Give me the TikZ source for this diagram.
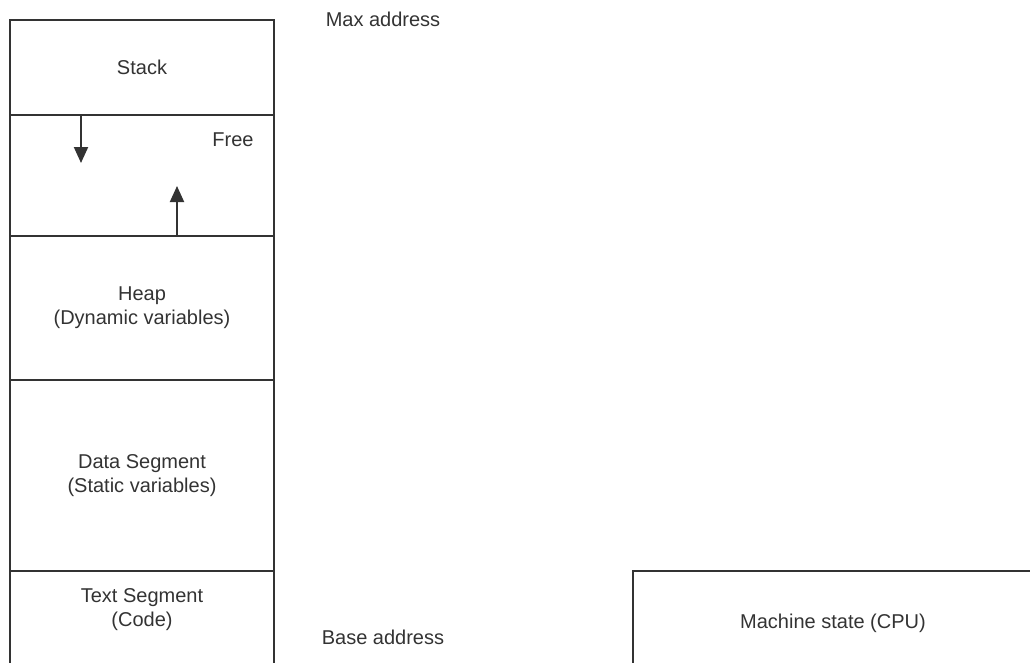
\documentclass[tikz,border=0pt]{standalone}
\usepackage{fontspec}
\setmainfont{Liberation Sans}
\usetikzlibrary{arrows.meta,positioning}

\definecolor{linegray}{HTML}{333333}
\tikzstyle{segment} = [rectangle, draw=linegray, line width=2pt, minimum width=264pt, anchor=north west, inner sep=0pt, align=center]
\tikzstyle{label} = [text=linegray, align=center]

\begin{document}
\begin{tikzpicture}[x=1pt, y=-1pt, font=\fontsize{20}{24}\selectfont, text=linegray]
        \useasboundingbox (0,0) rectangle (1030,662);
        \clip (0,0) rectangle (1030,662);
        % memory segments, top to bottom
        \node (stack) at (9,19) [segment, minimum height=95pt] {Stack};
        \node (free) at (9,114) [segment, minimum height=121pt] {};
        \node (heap) at (9,235) [segment, minimum height=144pt] {Heap\\(Dynamic variables)};
        \node (data) at (9,379) [segment, minimum height=191pt] {Data Segment\\(Static variables)};
        \node (code) at (9,570) [segment, minimum height=120pt, text depth=46pt] {Text Segment\\(Code)};
        \node (cpu) at (632,570) [segment, minimum width=430pt, minimum height=120pt, text depth=20pt] {\hspace*{-30pt}Machine state (CPU)};
        % labels
        \node (freelabel) at (233,140) [label] {Free};
        \node (maxaddr) at (383,19) [label] {Max address};
        \node (baseaddr) at (383,637) [label] {Base address};
        % growth arrows
        \coordinate (stacktip) at (81,163);
        \coordinate (heaptip) at (177,186);
        \draw[line width=2pt, draw=linegray, -{Triangle[width=14pt,length=16pt]}] (stack.south -| stacktip) -- (stacktip);
        \draw[line width=2pt, draw=linegray, -{Triangle[width=14pt,length=16pt]}] (heap.north -| heaptip) -- (heaptip);
    \end{tikzpicture}
\end{document}
